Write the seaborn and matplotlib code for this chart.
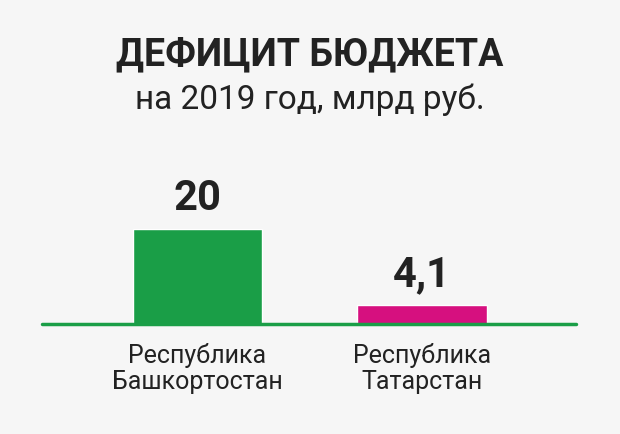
import matplotlib
matplotlib.use("Agg")
import matplotlib.pyplot as plt
import seaborn as sns
import pandas as pd

categories = ["Республика\nБашкортостан", "Республика\nТатарстан"]
values = [20, 4.1]
labels = ["20", "4,1"]
colors = ["#1a9e47", "#d6107f"]

sns.set_theme(style="white")
plt.rcParams['font.family'] = ['Roboto', 'DejaVu Sans']

W, H = 620, 434
fig = plt.figure(figsize=(6.2, 4.34), dpi=100, facecolor="#f6f6f6")
ax = fig.add_axes([42/W, (H-324)/H, 534/W, 95/H])
ax.set_facecolor("none")
df = pd.DataFrame({"cat": categories, "val": values})
sns.barplot(data=df, x="cat", y="val", hue="cat", palette=colors, width=0.575,
            legend=False, ax=ax, saturation=1)
ax.set_xlim(-0.693, 1.686)
ax.set_ylim(0, 20)
for s in ax.spines.values():
    s.set_visible(False)
ax.axhline(0, color="#1a9e47", lw=2.5, clip_on=False)
ax.set_xticks([0, 1])
ax.set_xticklabels(categories, fontsize=18, color="#222222", linespacing=1.1)
ax.tick_params(axis="x", length=0, pad=14)
ax.set_yticks([])
ax.set_xlabel(""); ax.set_ylabel("")
for i, (v, l) in enumerate(zip(values, labels)):
    ax.text(i, v, l, ha="center", va="bottom", fontsize=30, fontweight="bold",
            color="#222222", clip_on=False, transform=ax.transData)
    # offset
for t in ax.texts:
    t.set_y(t.get_position()[1] + 2)
fig.text(0.5, 1-55/H, "ДЕФИЦИТ БЮДЖЕТА", ha="center", va="center",
         fontsize=27, fontweight="bold", color="#222222")
fig.text(0.5, 1-100/H, "на 2019 год, млрд руб.", ha="center", va="center",
         fontsize=24, color="#222222")
fig.savefig("out.png", dpi=100, facecolor=fig.get_facecolor())
